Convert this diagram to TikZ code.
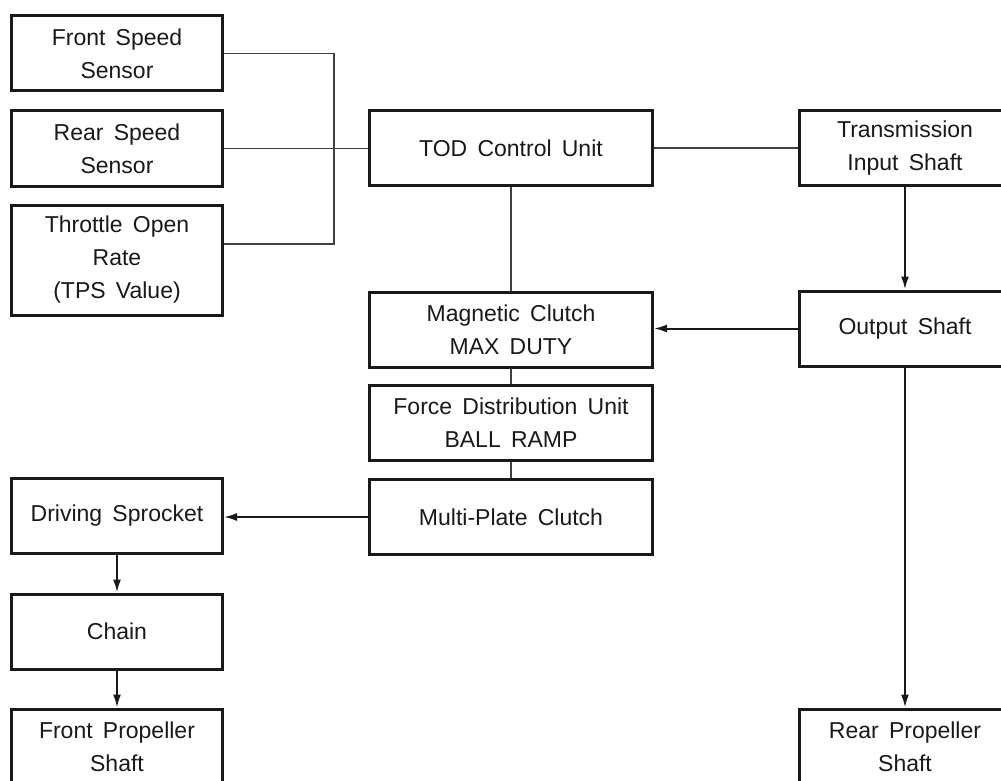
\documentclass[tikz,border=0pt]{standalone}
\usepackage{fontspec}
\setmainfont[WordSpace=1.6]{Liberation Sans}
\usepackage{tikz}
\usetikzlibrary{arrows.meta, positioning}

\begin{document}
\begin{tikzpicture}[x=1pt, y=-1pt, >={Latex[length=13pt,width=8pt]},
    blk/.style={draw=black!90, line width=3pt, minimum width=211pt, minimum height=75pt,
        align=center, inner sep=0pt, text=black!90,
        font=\fontsize{23}{33}\selectfont},
    wide/.style={minimum width=283pt},
    tall/.style={minimum height=110pt},
    link/.style={draw=black!75, line width=1.1pt},
    flow/.style={draw=black!90, line width=2pt, ->}]
    % Khung hình
    \clip (0,0) rectangle (1001,781);
    
    % Cột trái: cảm biến
    \node[blk] (front) at (117,53.5) {Front Speed\\Sensor};
    \node[blk, below=17pt of front] (rear) {Rear Speed\\Sensor};
    \node[blk, tall, below=16pt of rear] (tps) {Throttle Open\\Rate\\(TPS Value)};
    
    % Cột giữa
    \node[blk, wide] (tod) at (511,148) {TOD Control Unit};
    \node[blk, wide, below=104pt of tod] (mag) {Magnetic Clutch\\MAX DUTY};
    \node[blk, wide, below=15pt of mag] (fdu) {Force Distribution Unit\\BALL RAMP};
    \node[blk, wide, below=16pt of fdu] (mpc) {Multi-Plate Clutch};
    
    % Cột phải
    \node[blk] (trans) at (905,148) {Transmission\\Input Shaft};
    \node[blk] (outshaft) at (905,328.5) {Output Shaft};
    \node[blk] (rprop) at (905,746.5) {Rear Propeller\\Shaft};
    
    % Cột trái dưới
    \node[blk] (sprocket) at (117,515.5) {Driving Sprocket};
    \node[blk, below=38pt of sprocket] (chain) {Chain};
    \node[blk, below=37pt of chain] (fprop) {Front Propeller\\Shaft};
    
    % Đường nối
    \coordinate (bus) at (334,0);
    \coordinate (tpstap) at ([yshift=16pt]tps.east);
    \draw[link] (front.east) -| (bus |- tpstap) -- (tpstap);
    \draw[link] (rear.east) -- (rear.east -| tod.west);
    \draw[link] (tod.east) -- (trans.west);
    \draw[link] (tod.south) -- (mag.north);
    \draw[link] (mag.south) -- (fdu.north);
    \draw[link] (fdu.south) -- (mpc.north);
    
    % Mũi tên
    \draw[flow] (trans.south) -- (outshaft.north);
    \draw[flow] (outshaft.west) -- (outshaft.west -| mag.east);
    \draw[flow] (outshaft.south) -- (rprop.north);
    \draw[flow] (mpc.west) -- (mpc.west -| sprocket.east);
    \draw[flow] (sprocket.south) -- (chain.north);
    \draw[flow] (chain.south) -- (fprop.north);
    
\end{tikzpicture}
\end{document}
